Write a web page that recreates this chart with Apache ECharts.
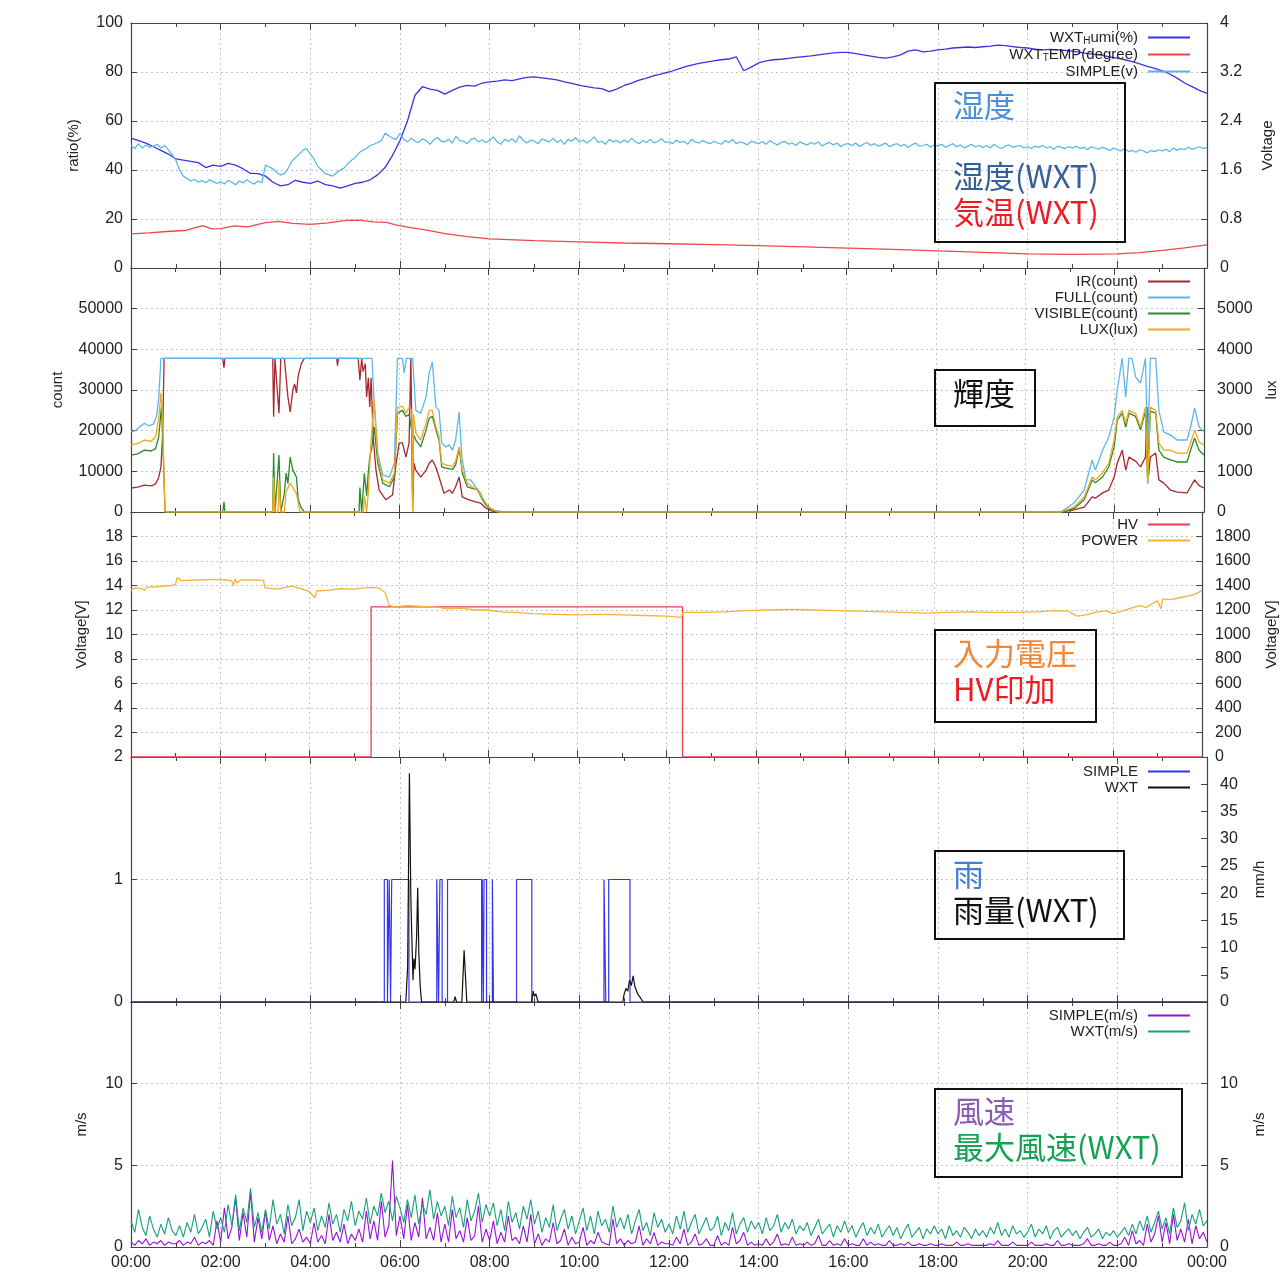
<!DOCTYPE html>
<html><head><meta charset="utf-8">
<script src="https://cdn.jsdelivr.net/npm/echarts@6/dist/echarts.min.js"></script>
<style>html,body{margin:0;padding:0;background:#fff}#c{width:1287px;height:1272px}</style>
</head><body><div id="c"></div>
<script>
// ---------- DATA (hours of day) ----------
const xTicksHours = [0,2,4,6,8,10,12,14,16,18,20,22,24];

// Panel 1: humidity / temperature / SIMPLE voltage
const humiWXT10min = [
 53,52,51,49.5,48,46.5,
 44.5,44,43.5,43,41,42,
 41.5,42.7,42,40.5,38.6,38.5,
 37.5,35,33.5,34,35.8,35,
 34.5,35.5,34,33.5,32.6,33.5,
 34.5,35,36,38,41,46,
 52,60,70.5,74,73,72.5,
 71,72.5,73.8,74.5,74.2,75.5,
 76,76.3,76.8,76.5,77.2,77.8,
 78,77.6,77.2,76.8,76,75.4,
 74.5,74,73.5,73.2,72,73,
 74.5,75.5,76.7,77.5,78.5,79.2,
 80,81,82,82.8,83.5,84,
 84.5,85,85.3,86.2,80.5,82,
 83.7,84.5,85,85.2,85.6,86,
 86.3,86.6,87,87.4,87.8,88,
 88,87.5,87,86.5,86,85.7,
 86.2,87,88.5,89,88.2,88.5,
 89,89.3,89.8,90,90.2,90,
 90.3,90.6,91,90.8,90.4,90,
 89.8,89.3,89,89.2,89,88.8,
 88.5,88,87.5,87.2,86.8,86.2,
 85.7,85,84.2,83.3,82.3,81.5,
 80.5,79.2,77.5,75.5,74,72.5,
 71.3];
const tempWXT = [[0,13.9],[0.4,14.3],[0.8,14.9],[1.2,15.3],[1.6,17.3],[1.8,16.0],[2.0,16.1],[2.3,17.2],[2.6,16.8],[3.0,18.5],[3.3,19.0],[3.6,18.2],[4.0,17.8],[4.4,18.4],[4.8,19.4],[5.1,19.5],[5.4,18.8],[5.7,18.6],[5.9,17.6],[6.2,16.6],[6.6,15.5],[7.0,14.0],[7.5,12.8],[8.0,11.9],[9.0,11.2],[10.0,10.7],[11.0,10.2],[12.0,9.9],[13.0,9.5],[14.0,9.1],[15.0,8.6],[16.0,8.1],[17.0,7.6],[18.0,7.0],[19.0,6.4],[20.0,5.8],[21.0,5.6],[22.0,5.8],[22.5,6.3],[23.0,7.2],[23.5,8.2],[24.0,9.4]];
const simpleV5min = [
 2.00,1.95,2.03,1.96,2.01,1.97,1.99,2.02,1.96,2.00,1.93,1.85,
 1.76,1.60,1.50,1.46,1.42,1.45,1.40,1.43,1.39,1.44,1.41,1.38,
 1.41,1.37,1.43,1.40,1.36,1.42,1.39,1.44,1.40,1.37,1.42,1.39,
 1.68,1.65,1.62,1.56,1.52,1.54,1.62,1.74,1.80,1.86,1.92,1.95,
 1.86,1.78,1.66,1.60,1.54,1.52,1.50,1.55,1.60,1.63,1.70,1.76,
 1.80,1.88,1.92,1.95,2.00,2.02,2.05,2.08,2.20,2.16,2.12,2.10,
 2.20,2.10,2.06,2.12,2.07,2.05,2.11,2.08,2.02,2.09,2.13,2.07,
 2.06,2.10,2.04,2.15,2.08,2.07,2.03,2.10,2.12,2.06,2.09,2.05,
 2.08,2.14,2.06,2.02,2.10,2.07,2.11,2.05,2.16,2.08,2.04,2.09,
 2.07,2.03,2.11,2.08,2.06,2.12,2.05,2.09,2.02,2.10,2.07,2.13,
 2.06,2.09,2.04,2.08,2.14,2.05,2.07,2.02,2.10,2.06,2.08,2.04,
 2.09,2.05,2.12,2.06,2.03,2.08,2.05,2.10,2.04,2.07,2.11,2.05,
 2.06,2.03,2.09,2.05,2.07,2.02,2.10,2.06,2.04,2.08,2.05,2.03,
 2.07,2.04,2.02,2.08,2.05,2.10,2.03,2.06,2.04,2.01,2.07,2.05,
 2.03,2.06,2.02,2.08,2.04,2.01,2.05,2.07,2.02,2.04,2.00,2.06,
 2.03,2.01,2.05,2.02,2.06,1.99,2.03,2.05,2.01,2.04,1.98,2.02,
 2.03,2.00,2.04,1.98,2.02,2.05,2.00,2.03,1.99,2.01,2.04,1.98,
 2.01,2.03,1.99,2.02,1.97,2.01,2.04,1.99,2.00,2.02,1.97,2.01,
 1.99,2.02,1.97,2.00,2.03,1.98,2.01,1.96,1.99,2.02,1.98,2.00,
 1.97,2.00,1.96,2.02,1.98,1.95,1.99,2.01,1.97,1.99,2.00,1.96,
 1.98,1.95,1.99,1.97,2.00,1.96,1.98,1.94,1.99,1.97,1.95,1.98,
 1.96,1.99,1.95,1.97,1.93,1.98,1.96,1.94,1.97,1.95,1.92,1.96,
 1.93,1.91,1.95,1.90,1.92,1.89,1.93,1.91,1.88,1.92,1.90,1.93,
 1.91,1.94,1.90,1.96,1.92,1.95,1.93,1.97,1.94,1.96,1.98,1.95,
 1.97];

// Panel 2: light sensor
const irCount = [[0,5900],[0.15,6100],[0.3,6600],[0.45,6400],[0.55,6900],[0.62,8500],[0.67,11100],[0.71,19400],[0.74,37800],[2.05,37800],[2.08,35500],[2.1,37800],[3.17,37800],[3.19,23400],[3.22,37800],[3.25,37800],[3.31,24300],[3.35,37800],[3.43,37800],[3.47,33000],[3.51,28300],[3.56,24600],[3.62,30000],[3.66,31500],[3.70,29300],[3.74,33500],[3.81,36500],[3.88,37800],[4.6,37800],[4.62,36000],[4.64,37800],[5.08,37800],[5.12,32500],[5.16,37800],[5.19,34500],[5.24,36500],[5.27,28300],[5.31,33000],[5.34,25800],[5.37,33000],[5.42,18000],[5.48,10300],[5.55,5400],[5.70,3000],[5.85,4200],[5.93,12000],[6.0,17000],[6.07,17000],[6.15,13500],[6.22,17000],[6.26,37800],[6.28,37800],[6.30,3000],[6.33,12000],[6.37,10300],[6.48,8600],[6.60,10300],[6.67,12000],[6.74,12800],[6.82,11000],[6.89,8600],[7.0,4600],[7.12,5400],[7.19,4600],[7.26,6200],[7.34,8600],[7.41,3700],[7.56,3000],[7.71,2500],[7.82,2200],[7.93,1000],[8.08,200],[8.3,0],[20.8,0],[21.09,500],[21.32,1200],[21.5,3700],[21.57,3400],[21.73,4700],[21.87,5400],[21.99,8600],[22.06,12000],[22.17,15200],[22.25,10300],[22.32,13500],[22.47,12500],[22.58,11100],[22.69,13500],[22.73,25800],[22.76,9000],[22.8,13500],[22.92,14500],[22.99,7900],[23.1,7100],[23.25,5400],[23.4,4900],[23.62,4700],[23.7,6200],[23.79,7900],[23.89,6500],[24,5900]];
const fullCount = [[0,19700],[0.1,20000],[0.2,21000],[0.3,21800],[0.4,21200],[0.5,21600],[0.57,23500],[0.62,28000],[0.67,37800],[5.39,37800],[5.44,26800],[5.52,14500],[5.63,9100],[5.78,8600],[5.89,12000],[5.96,37800],[6.07,37800],[6.11,34200],[6.16,37800],[6.30,37800],[6.37,25000],[6.48,24300],[6.60,28300],[6.67,34200],[6.74,36900],[6.82,25800],[6.89,25000],[6.95,17000],[7.04,16000],[7.12,16500],[7.19,15200],[7.26,17700],[7.34,24600],[7.40,13500],[7.49,7900],[7.60,7900],[7.71,6200],[7.82,4600],[7.93,1700],[8.08,500],[8.3,0],[20.8,0],[21.09,2200],[21.32,5400],[21.5,12800],[21.57,10300],[21.73,15200],[21.87,18400],[21.99,23400],[22.06,30000],[22.17,37800],[22.25,28300],[22.32,37800],[22.39,37800],[22.47,33200],[22.58,31700],[22.69,37800],[22.74,15200],[22.8,37800],[22.92,37800],[22.99,25000],[23.1,19700],[23.25,18900],[23.4,17700],[23.62,17700],[23.7,20900],[23.79,25600],[23.89,20900],[24,19700]];
const visibleCount = [[0,14000],[0.15,14300],[0.3,15200],[0.45,15000],[0.55,15600],[0.62,18500],[0.68,25800],[0.72,15000],[0.76,0],[2.05,0],[2.08,2500],[2.1,0],[3.17,0],[3.19,14500],[3.22,0],[3.25,0],[3.31,14000],[3.35,0],[3.43,4600],[3.47,9600],[3.51,7000],[3.56,13500],[3.62,10300],[3.70,8600],[3.74,3000],[3.81,1000],[3.88,0],[5.1,0],[5.12,6000],[5.16,0],[5.22,9500],[5.27,4000],[5.31,10000],[5.34,13500],[5.39,16000],[5.44,20900],[5.52,12000],[5.63,7100],[5.78,6200],[5.89,8600],[5.96,24300],[6.07,25000],[6.15,23500],[6.22,24000],[6.28,20000],[6.30,0],[6.32,19000],[6.37,17700],[6.48,16000],[6.60,20200],[6.67,23100],[6.74,23500],[6.82,20200],[6.89,17700],[6.95,11100],[7.04,10800],[7.19,10500],[7.26,11500],[7.34,15700],[7.41,9600],[7.52,6200],[7.63,5800],[7.75,5500],[7.86,3000],[8.0,1000],[8.15,200],[8.3,0],[20.8,0],[21.09,800],[21.32,3000],[21.5,7900],[21.57,7200],[21.73,8600],[21.87,11100],[21.99,16000],[22.06,22600],[22.17,24300],[22.25,20900],[22.32,24300],[22.47,23500],[22.58,20200],[22.69,24800],[22.74,7000],[22.8,24800],[22.92,24300],[22.99,15200],[23.1,13500],[23.25,12800],[23.4,12300],[23.62,12300],[23.7,15200],[23.79,18200],[23.89,15200],[24,14000]];
const luxLux = [[0,1650],[0.15,1680],[0.3,1770],[0.45,1740],[0.55,1850],[0.62,2300],[0.67,2930],[0.71,2200],[0.76,0],[3.17,0],[3.19,860],[3.22,0],[3.29,0],[3.31,800],[3.35,0],[3.43,0],[3.47,500],[3.56,710],[3.62,600],[3.70,450],[3.78,0],[5.2,0],[5.22,400],[5.27,0],[5.31,500],[5.36,1600],[5.44,2750],[5.52,1350],[5.63,790],[5.78,710],[5.89,960],[5.96,2580],[6.07,2600],[6.15,2430],[6.22,2580],[6.28,2500],[6.30,0],[6.32,2400],[6.37,1940],[6.48,1770],[6.60,2180],[6.67,2500],[6.74,2500],[6.82,2090],[6.89,1850],[6.95,1200],[7.04,1160],[7.19,1120],[7.26,1250],[7.34,1600],[7.41,1030],[7.52,710],[7.63,620],[7.75,540],[7.86,340],[8.0,120],[8.2,0],[20.8,0],[21.09,120],[21.32,370],[21.5,860],[21.57,790],[21.73,960],[21.87,1200],[21.99,1770],[22.06,2340],[22.17,2500],[22.25,2180],[22.32,2500],[22.47,2420],[22.58,2090],[22.69,2580],[22.74,710],[22.8,2580],[22.92,2500],[22.99,1700],[23.1,1520],[23.25,1520],[23.4,1450],[23.62,1450],[23.7,1700],[23.79,2020],[23.89,1720],[24,1650]];

// Panel 3: HV / power
const hvVolt = [[0,0],[5.38,0],[5.38,1225],[12.36,1225],[12.36,0],[24,0]];
const powerVolt = [[0,13.6],[0.08,13.8],[0.25,13.75],[0.3,13.6],[0.35,13.85],[0.6,13.9],[0.9,14.0],[1.0,14.1],[1.03,14.65],[1.12,14.4],[1.5,14.45],[1.9,14.5],[2.1,14.45],[2.25,14.4],[2.3,14.0],[2.33,14.55],[2.37,14.2],[2.45,14.45],[2.8,14.45],[2.97,14.4],[3.0,13.8],[3.3,13.7],[3.45,13.85],[3.6,13.95],[3.8,13.75],[4.0,13.5],[4.12,13.0],[4.16,13.55],[4.4,13.6],[4.7,13.75],[5.0,13.7],[5.3,13.85],[5.55,13.8],[5.7,13.4],[5.78,12.4],[5.9,12.25],[6.2,12.35],[6.5,12.3],[6.8,12.25],[7.1,12.1],[7.4,12.15],[7.7,12.0],[8.0,12.0],[8.3,11.85],[8.6,11.8],[9.0,11.7],[9.5,11.65],[10.0,11.6],[10.5,11.65],[11.0,11.6],[11.5,11.55],[12.0,11.5],[12.33,11.4],[12.37,11.8],[12.8,11.8],[13.3,11.85],[13.8,11.95],[14.3,12.0],[14.8,12.05],[15.3,12.0],[15.8,11.95],[16.3,11.9],[16.8,11.85],[17.3,11.8],[17.8,11.75],[18.3,11.8],[18.8,11.85],[19.3,11.8],[19.8,11.8],[20.3,11.85],[20.7,11.95],[21.0,11.9],[21.2,11.5],[21.4,11.6],[21.6,11.8],[21.85,11.95],[22.0,11.7],[22.2,11.9],[22.45,12.2],[22.6,12.35],[22.75,12.2],[22.9,12.55],[23.0,12.75],[23.08,12.1],[23.12,12.9],[23.3,12.85],[23.5,13.0],[23.7,13.15],[23.85,13.3],[24,13.6]];

// Panel 4: rain
const rainSimpleOn  = [5.65,5.76,5.815,6.82,6.89,7.06,7.835,7.875,8.06,8.60,10.55,10.655];
const rainSimpleOff = [5.72,5.79,6.20,6.86,6.94,7.82,7.86,7.93,8.085,8.94,10.59,11.13];
const rainWXT = [[0,0],[6.13,0],[6.17,6.4],[6.21,42],[6.24,20],[6.26,13],[6.29,4],[6.31,8],[6.335,6],[6.37,12],[6.395,21],[6.42,9],[6.45,3],[6.48,0],[7.2,0],[7.23,1],[7.26,0],[7.38,0],[7.43,9.5],[7.49,0],[8.94,0],[8.97,2],[9.0,1],[9.03,1.5],[9.08,0],[10.97,0],[11.0,1.5],[11.04,2.5],[11.08,2],[11.12,4],[11.16,3],[11.2,4.8],[11.24,2.8],[11.3,1.5],[11.36,0.8],[11.42,0],[24,0]];

// Panel 5: wind (5-minute samples)
const windSimple5min = [
 0.3,0.1,0.4,0.2,0.5,0.1,0.3,0.2,0.4,0.1,0.3,0.2,
 0.2,0.4,0.1,0.3,0.2,0.6,0.1,0.3,0.2,0.4,0.1,1.6,
 0.3,2.4,0.5,1.2,3.0,0.4,2.1,0.6,3.4,0.3,1.8,0.5,
 2.2,0.4,1.3,0.2,0.8,0.3,1.9,0.2,0.5,1.1,0.3,0.6,
 0.2,1.5,0.3,0.7,0.2,2.0,0.4,0.9,0.3,1.4,0.2,0.8,
 0.4,1.1,0.3,2.2,0.5,1.6,0.4,2.8,0.6,1.3,5.3,0.7,
 1.9,0.5,2.6,0.4,1.5,0.6,3.0,0.5,1.2,0.4,2.1,0.3,
 1.4,0.3,2.3,0.5,1.0,0.3,1.8,0.4,0.7,2.5,0.3,1.1,
 0.4,1.6,0.2,0.9,0.3,1.9,0.4,0.6,0.2,1.3,0.3,2.0,
 0.2,0.8,0.1,0.5,0.3,1.5,0.2,0.4,1.1,0.1,0.6,0.2,
 0.3,1.2,0.1,0.4,0.2,0.9,0.3,0.2,0.1,1.7,0.2,0.5,
 0.1,0.4,0.2,0.3,1.3,0.1,0.5,0.2,0.9,0.1,0.3,0.2,
 0.2,0.1,0.6,0.2,1.1,0.1,0.3,0.8,0.1,0.2,0.5,0.1,
 0.1,0.7,0.1,0.3,0.1,1.2,0.2,0.4,0.9,0.1,0.3,0.1,
 0.2,0.1,0.5,0.1,0.3,0.8,0.1,0.2,0.1,0.6,0.1,0.2,
 0.1,0.3,0.1,0.2,0.7,0.1,0.1,0.4,0.1,0.2,0.1,0.5,
 0.1,0.2,0.1,0.1,0.5,0.1,0.3,0.1,0.2,0.1,0.1,0.4,
 0.1,0.1,0.2,0.1,0.3,0.1,0.1,0.2,0.1,0.1,0.2,0.1,
 0.1,0.2,0.1,0.1,0.1,0.3,0.1,0.1,0.2,0.1,0.1,0.1,
 0.1,0.1,0.2,0.1,0.4,0.1,0.1,0.1,0.3,0.1,0.1,0.1,
 0.1,0.3,0.1,0.1,0.1,0.2,0.1,0.1,0.4,0.1,0.1,0.2,
 0.1,0.1,0.1,0.2,0.5,0.1,0.1,0.2,0.1,0.1,0.3,0.1,
 0.1,0.2,0.6,0.1,1.0,0.2,0.4,0.1,1.4,0.3,0.8,1.9,
 0.3,1.5,0.2,2.0,0.4,1.1,0.3,1.7,0.2,1.3,0.5,0.9,
 0.3];
const windWXT5min = [
 1.6,0.9,2.3,1.2,0.7,1.9,1.1,0.6,1.4,0.8,1.8,1.0,
 0.7,1.3,0.6,1.5,0.9,2.0,0.8,1.2,1.7,0.6,2.2,1.1,
 1.8,0.9,2.6,1.3,3.2,1.0,2.4,1.5,3.6,1.2,2.1,0.9,
 2.3,1.1,2.9,1.4,2.0,0.8,2.6,1.3,1.8,2.9,1.0,2.2,
 1.5,2.4,1.0,1.9,1.2,2.7,1.4,2.0,0.9,2.3,1.6,2.8,
 1.3,2.2,1.7,3.0,1.4,2.5,1.9,3.3,2.1,2.8,1.6,3.1,
 2.4,1.5,2.9,1.8,3.2,1.4,2.6,2.0,3.5,1.7,2.8,1.9,
 2.5,1.3,3.1,1.8,2.4,1.2,2.9,1.6,2.2,3.3,1.5,2.6,
 1.9,2.7,1.3,2.3,1.0,2.8,1.5,2.1,1.1,2.5,1.7,2.9,
 1.4,2.2,0.9,1.8,1.2,2.6,1.0,1.7,2.3,1.1,1.9,0.8,
 1.6,2.4,1.0,1.9,0.8,2.2,1.3,1.7,0.9,2.5,1.2,1.8,
 1.1,2.0,0.8,1.6,2.3,1.0,1.5,0.7,2.1,1.2,1.7,0.9,
 1.4,0.8,1.9,1.1,2.2,0.9,1.5,2.0,0.8,1.3,1.8,1.0,
 1.2,1.9,0.7,1.5,1.0,2.1,0.8,1.4,1.8,0.9,1.6,1.1,
 1.5,0.8,1.8,1.0,1.3,2.0,0.9,1.5,1.1,1.7,0.8,1.3,
 1.0,1.5,0.7,1.2,1.7,0.8,1.1,1.4,0.6,1.3,0.9,1.6,
 0.9,1.3,0.6,1.1,1.5,0.7,1.2,0.8,1.4,0.6,1.0,1.3,
 0.7,1.2,0.5,1.0,1.4,0.6,0.9,1.2,0.5,1.1,0.8,1.3,
 0.8,1.1,0.5,1.3,0.7,1.0,0.6,1.2,0.9,0.5,1.1,0.7,
 1.0,0.6,1.2,0.8,1.5,0.7,1.1,0.6,1.3,0.8,1.0,0.6,
 0.9,1.4,0.6,1.1,0.8,1.3,0.5,1.0,1.2,0.6,0.9,1.1,
 0.7,1.0,0.5,0.9,1.2,0.6,0.8,1.1,0.5,0.9,0.7,1.0,
 0.6,0.9,1.2,0.7,1.4,0.8,1.6,1.0,1.9,0.9,1.5,2.2,
 1.1,1.8,0.8,2.4,1.2,1.6,2.7,1.0,2.0,1.4,2.3,1.3,
 1.6];

// ---------- helpers ----------
function uniform(vals, stepH){ return vals.map((v,i)=>[+(i*stepH).toFixed(4), v]); }
function pulses(on, off){
  const d=[[0,0]];
  on.forEach((t,i)=>{ d.push([t,0],[t,1],[off[i],1],[off[i],0]); });
  d.push([24,0]); return d;
}
const FONT='"Liberation Sans", Arial, Helvetica, sans-serif';
const CJK='"Noto Sans CJK JP", "Noto Sans CJK SC", sans-serif';
const AX='#444';
const tops=[23,268,512,757,1002], heights=[245,244,245,245,245];

const grids=tops.map((t,i)=>({left:131,width:1076,top:t,height:heights[i]}));
const xAxes=[];
for(let k=0;k<2;k++){
 for(let i=0;i<5;i++){
  const bottom=k===0;
  xAxes.push({type:'value',gridIndex:i,min:0,max:24,interval:2,position:bottom?'bottom':'top',
    axisLine:{show:true,onZero:false,lineStyle:{color:AX,width:1.2}},
    axisTick:{show:true,inside:true,length:7,lineStyle:{color:AX}},
    minorTick:{show:true,splitNumber:2,length:4,lineStyle:{color:AX}},
    splitLine:{show:bottom,lineStyle:{color:'#c4c4c4',type:[2,3],width:1}},
    axisLabel:{show:bottom&&i===4,fontSize:16,fontFamily:FONT,color:'#222',margin:8,
      formatter:v=>{const h=v%24;return (h<10?'0':'')+h+':00';}}});
 }
}
function yAx(grid,pos,min,max,interval,name,gap,opts){
  opts=opts||{};
  return {type:'value',gridIndex:grid,position:pos,min:min,max:max,interval:interval,
    name:name,nameLocation:'middle',nameGap:gap,nameRotate:90,
    nameTextStyle:{fontSize:15,fontFamily:FONT,color:'#222'},
    axisLine:{show:true,onZero:false,lineStyle:{color:AX,width:1.2}},
    axisTick:{show:true,inside:true,length:6,lineStyle:{color:AX}},
    splitLine:{show:pos==='left',lineStyle:{color:'#c4c4c4',type:[2,3],width:1}},
    axisLabel:{fontSize:16,fontFamily:FONT,color:'#222',margin:pos==='left'?8:13,
      showMaxLabel:opts.showMax!==false,showMinLabel:opts.showMin!==false,
      formatter:opts.fmt||(v=>String(v))}};
}
const yAxes=[
  yAx(0,'left',0,100,20,'ratio(%)',50),
  yAx(0,'right',0,4,0.8,'Voltage',53,{fmt:v=>String(+v.toFixed(1))}),
  yAx(1,'left',0,60000,10000,'count',66,{showMax:false}),
  yAx(1,'right',0,6000,1000,'lux',60,{showMax:false}),
  yAx(2,'left',0,20,2,'Voltage[V]',42,{showMax:false,showMin:false}),
  yAx(2,'right',0,2000,200,'Voltage[V]',62,{showMax:false}),
  yAx(3,'left',0,2,1,'',40),
  yAx(3,'right',0,45,5,'mm/h',45,{showMax:false}),
  yAx(4,'left',0,15,5,'m/s',42,{showMax:false}),
  yAx(4,'right',0,15,5,'m/s',45,{showMax:false})
];
function line(name,data,xi,yi,color,w,z){
  return {name:name,type:'line',xAxisIndex:xi,yAxisIndex:yi,data:data,symbol:'none',showSymbol:false,
    lineStyle:{color:color,width:w||1.2},itemStyle:{color:color},z:z||2,animation:false};
}
const series=[
  line('WXT_Humi(%)',uniform(humiWXT10min,1/6),0,0,'#3535e6',1.3),
  line('WXT_TEMP(degree)',tempWXT,0,0,'#f0474a',1.3),
  line('SIMPLE(v)',uniform(simpleV5min,1/12),0,1,'#55b4ea',1.2),
  line('IR(count)',irCount,1,2,'#a8282c',1.3),
  line('FULL(count)',fullCount,1,2,'#5fb6ea',1.3),
  line('VISIBLE(count)',visibleCount,1,2,'#2a8a2a',1.3),
  line('LUX(lux)',luxLux,1,3,'#f0a81c',1.3),
  line('HV',hvVolt,2,5,'#ee3f45',1.3),
  line('POWER',powerVolt,2,4,'#f5b23a',1.3),
  line('SIMPLE',pulses(rainSimpleOn,rainSimpleOff),3,6,'#3535ee',1.2),
  line('WXT',rainWXT,3,7,'#111111',1.2),
  line('SIMPLE(m/s)',uniform(windSimple5min,1/12),4,8,'#9b10d8',1.1),
  line('WXT(m/s)',uniform(windWXT5min,1/12),4,8,'#17a07c',1.1)
];
const legendRich={s:{fontSize:10,fontFamily:FONT,color:'#222',padding:[7,0,0,0]}};
function leg(names,top){
  return {data:names.map(n=>({name:n,icon:'rect'})),top:top,right:97,padding:0,orient:'vertical',align:'right',
    itemWidth:42,itemHeight:2,itemGap:1,
    textStyle:{fontSize:15,lineHeight:15,fontFamily:FONT,color:'#222',padding:[0,5,0,0],rich:legendRich},
    formatter:n=>n.replace(/^WXT_(.)/,'WXT{s|$1}'),selectedMode:false};
}
const legends=[
  leg(['WXT_Humi(%)','WXT_TEMP(degree)','SIMPLE(v)'],30),
  leg(['IR(count)','FULL(count)','VISIBLE(count)','LUX(lux)'],274),
  leg(['HV','POWER'],517),
  leg(['SIMPLE','WXT'],764),
  leg(['SIMPLE(m/s)','WXT(m/s)'],1008)
];
function box(x,y,w,h){return {type:'rect',shape:{x:x,y:y,width:w,height:h},style:{fill:'none',stroke:'#111',lineWidth:2},z:100};}
function txt(s,x,y,c){return {type:'text',x:x,y:y,style:{text:s,fill:c,fontSize:31,fontFamily:CJK,verticalAlign:'middle',align:'left'},z:101};}
const graphics=[
  box(935,83,190,159), txt('湿度',953,105,'#4a8fd8'), txt('湿度(WXT)',953,176,'#34609a'), txt('気温(WXT)',953,212,'#ee1c22'),
  box(935,370,100,56), txt('輝度',953,393,'#111'),
  box(935,630,161,92), txt('入力電圧',953,653,'#f08838'), txt('HV印加',953,689,'#ee1c22'),
  box(935,851,189,88), txt('雨',953,874,'#3f7fd6'), txt('雨量(WXT)',953,910,'#111'),
  box(935,1089,247,88), txt('風速',953,1111,'#8a5cb6'), txt('最大風速(WXT)',953,1147,'#18a055')
];
const chart=echarts.init(document.getElementById('c'),null,{renderer:'canvas'});
chart.setOption({backgroundColor:'#fff',animation:false,grid:grids,xAxis:xAxes,yAxis:yAxes,
  legend:legends,series:series,graphic:graphics});
</script></body></html>
